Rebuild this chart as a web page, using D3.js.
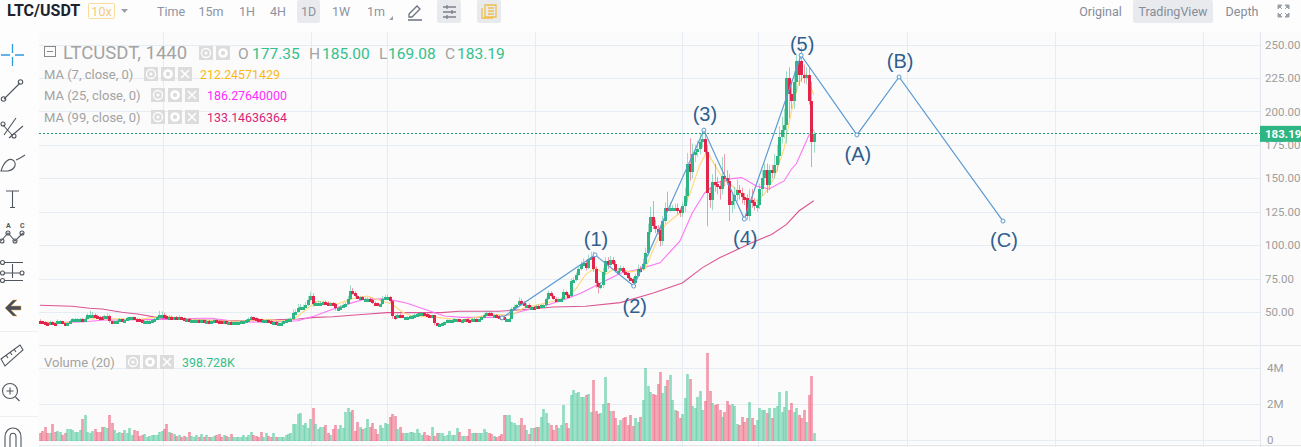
<!DOCTYPE html>
<html>
<head>
<meta charset="utf-8">
<title>LTC/USDT</title>
<script src="https://cdn.jsdelivr.net/npm/d3@7/dist/d3.min.js"></script>
<style>
html,body{margin:0;padding:0;background:#fff;overflow:hidden}
svg{display:block;font-family:Roboto,"Noto Sans",sans-serif}
</style>
</head>
<body>
<svg id="chart" width="1301" height="447"></svg>
<script>
// Daily closes, one per session
const firstOpen = 43.5;
const closes = [
43,42.5,42,41.5,42.5,41.5,41,43,43,41.5,
41,41.5,43,44.5,45,45,45,44.5,45,47.5,
48,48,47,46.5,46,45.5,47,47,43,42.5,
43,43.5,44.5,44,44,45.5,46,46,45,44.5,
44,43.5,43.5,43.5,43.5,44,44.5,46,48,48,
47,46,46.5,46,46,45.5,46,45.5,45,45,
43.5,44,44,44,43.5,44,43.5,43.5,43,43,
44,43.5,43,42.5,43,42.5,42.5,42,42.5,42.5,
42.5,43,43,44,45,46,45.5,45,44.5,44,
44,44,43.5,42.5,42.5,42,42,42,43,44,
44.5,45,49,50,53,54,54,55.5,59,62,
56,56.5,57,57,57.5,57,56.5,56.5,56,53,
53,54,55.5,56,60,66,64,62,61,61,
60,60,60,59,57,56.5,56,56,60,61,
61,58,47,46,48,47.5,46,46,46.5,47,
47,48,48.5,49,49,48.5,48,47.5,47.5,41.5,
41,41,41.5,42.5,44,44,44,44.5,44.5,44,
44,44.5,44,43.5,44.5,45,44.5,44.5,46,48,
49.5,49,47.5,47.5,47,46.5,46,45,45,45,
52,54,55,58,57,55.5,55.5,54,54,53,
54.5,54,55,55,60,64,62,60,59,59.5,
60,65,63,62,73,74,78,82,86,87,
83,90,91,82,72,69,70,80,88,85,
89,86,80.5,81,83,80,79,75.5,75,72,
77,82.5,82,86,94,110,121,114,112,111,
103,118,128,127,128,128,128,126,124,129,
137,161,155,168,170,172,177,179,170,139,
134,147,146,144,142,152,150,148,130,133,
137.6,141,139,136,135,122,134,132,129,130,
142,150,156,145,156,154,160,167,181,186,
190,225,213,208,222,238,227,227,226,227,
208,177.35,183.19];

// Sessions that gapped away from the previous close: [session, open]
const gappedOpens = [[307, 238]];

// Wick length above the candle body
const wickUp = [
1,.5,.5,.5,1,.5,.5,1.5,1,.5,
.5,1,1,1,.5,.5,.5,.5,1,1.5,
3,2,1,1,.5,1,1,2,1,.5,
.5,.5,1,.5,.5,1,.5,.5,.5,.5,
.5,.5,.5,.5,.5,.5,1,1,3,2.5,
1.5,1,1,1,.5,1,1.5,.5,.5,.5,
.5,.5,.5,.5,.5,.5,.5,.5,.5,.5,
1,.5,.5,.5,.5,.5,.5,.5,.5,.5,
.5,.5,.5,1,1,1,.5,.5,.5,.5,
.5,.5,.5,.5,.5,.5,.5,.5,1,1,
1,1,3,2,3,2,1.5,2,3,3,
2,1.5,1.5,1,1,1,1,.5,1,1,
1,1,1,1.5,2,4,2,1.5,1,1,
1,1,1,1,1,1,.5,.5,2,2,
2,1,1,1,1,1,.5,.5,.5,.5,
1,1,1,1,.5,.5,.5,.5,.5,.5,
.5,.5,.5,.5,.5,.5,.5,1,.5,.5,
.5,.5,.5,.5,1,1,.5,.5,1,1,
1.5,1,1,1,1,.5,.5,.5,.5,.5,
1.5,1.5,1,3,2,1,1,1,1,.5,
1,1,1,1,1,2,1.5,1,1,1,
1,2,1,1,2,2,1.5,1.5,2,3,
2,3,4,4,2,1,2,3,3,3,
3,2,2,2,2,1,1,1,1,1,
1.5,3,2,4,4,6,8,12,5,3,
3,4,4,12,4,2,3,3,2,3,
6,8,19,8,5,6,6,7,4,5,
4,6,14,5,4,14,16,6,5,6,
6,8,4,4,3,3,8,8,3,4,
4,6,5,5,4,4,8,8,8,10,
12,5,8,10,8,4,5,10,8,6,
6,14,1.81];

// Wick length below the candle body
const wickDown = [
.5,.5,.5,.5,.5,1,1.5,.5,.5,.5,
1,.5,.5,.5,.5,.5,.5,.5,.5,.5,
.5,.5,.5,.5,.5,.5,.5,.5,1,1,
.5,.5,.5,.5,.5,.5,.5,.5,.5,.5,
.5,.5,.5,.5,.5,.5,.5,.5,.5,.5,
.5,.5,.5,.5,.5,.5,.5,.5,.5,1,
1,.5,.5,.5,.5,.5,.5,.5,.5,.5,
.5,.5,.5,1,.5,.5,.5,.5,.5,.5,
.5,.5,.5,.5,.5,.5,.5,.5,.5,.5,
.5,.5,.5,.5,.5,.5,.5,.5,.5,.5,
.5,.5,.5,.5,.5,1,1,1,1,1,
2,1,1,1,1,1,1,1,1,2,
2,1,.5,.5,.5,1,1,1,1,1,
1,1,1,1,1,1,1,1,.5,.5,
.5,1,2,2,1,1,.5,1,.5,.5,
.5,.5,.5,.5,.5,.5,.5,.5,.5,1.5,
1,1,.5,.5,.5,.5,.5,1,.5,.5,
.5,1,.5,1,.5,.5,1,.5,.5,.5,
.5,.5,.5,.5,.5,.5,1,.5,.5,.5,
.5,.5,.5,.5,1,.5,.5,.5,.5,.5,
.5,1,.5,.5,1,1,1,1,.5,.5,
.5,1,1,1,1,1,1,1,1,1,
2,1,1,2,4,5,2,2,2,3,
1,1,1,1,1,1,1,1,1,2,
1,1,1,1,2,2,2,2,3,3,
4,3,2,2,2,2,2,3,3,3,
4,5,7,5,6,4,4,4,2,25,
6,8,6,6,8,4,6,3,12,6,
6,5,5,5,5,3,4,4,3,4,
3,5,5,6,4,4,4,5,6,5,
6,14,18,6,6,8,8,5,5,6,
3,19,8.27];

// Traded volume per session, in millions
const volumes = [
.37,.52,.7,.37,.41,.89,.46,.48,.46,.28,
.37,.59,.59,.56,.46,.46,.56,1.15,1.39,.46,
.41,.52,.63,.46,.44,.74,.74,.65,1.39,.93,
.56,.41,.46,.41,.56,.41,.65,.28,.56,.52,
.22,.26,.33,.19,.22,.26,.26,.28,.46,.52,
.59,.89,.44,.41,.33,.22,.26,.19,.22,.19,
.46,.22,.15,.3,.15,.33,.15,.26,.19,.15,
.22,.28,.33,.19,.3,.22,.15,.33,.15,.15,
.19,.19,.26,.19,.28,.46,.3,.22,.19,.44,
.19,.41,.22,.15,.37,.19,.15,.15,.15,.28,
.33,.41,.89,.89,1.44,
1.48,.83,.96,.65,1.15,1.76,.89,.59,.7,.74,
.85,.41,.28,.59,.85,.59,.83,.69,1.54,1.76,
1.56,1.67,.52,1.02,.74,.59,.65,1.15,.7,.93,
.59,.33,.83,.65,.93,.89,1.26,1.44,1.33,.59,
.7,.41,.41,.37,.44,.44,.41,.59,.37,.3,
.44,.26,.22,.7,.22,.37,.37,.37,.22,.26,
.48,.3,.26,.65,.44,.22,.22,.22,.59,.37,
.37,.37,.37,.37,.59,.44,.37,.33,.22,.19,
.22,.33,1.39,1.39,1.39,1.02,.93,.83,.83,1.2,
.83,.56,.33,.65,.65,.74,.74,1.3,1.7,1.52,
.96,.83,.56,.83,.65,
.81,1.94,.96,.65,2.5,2.78,2.59,2.69,2.37,2.41,
2.5,2.54,1.57,3.33,1.63,1.44,1.48,2,3.52,2.07,
1.63,1.63,1.2,.83,1.11,1.2,1.3,.83,1.39,.78,
1.2,1.02,1.3,2.22,3.98,3,2.69,2.56,2.5,3.11,
3.8,2.63,3,3.33,3.61,2.22,1.67,1.63,1.2,1.44,
2.35,3.67,3.39,1.89,1.76,2.41,2.7,1.67,2.19,4.85,
2.72,2.07,1.96,2,1.67,1.3,1.57,2.19,1.94,2,
1.89,.89,.83,1.3,1.02,1.2,2.13,1.2,.83,1.11,
1.8,1.67,1.67,1.52,1.8,1.2,1.8,1.91,2.69,1.57,
1.85,2.74,1.67,2.07,1.57,1.76,1.39,1.2,1.67,1.02,
2.5,3.56,.399];

// Moving averages as [session, value]
const ma7 = [[0,42.5],[10,42],[20,45],[30,45],[40,44.5],[50,47],[60,44.5],[70,43.5],[80,43],[90,44.5],[100,43],[104,47],[108,53],[112,58],[120,56],[126,60],[132,62],[138,58],[142,56],[146,50],[150,47],[160,46],[170,44],[180,47.5],[185,48],[190,47.5],[195,53],[200,55],[207,58],[212,61],[216,67],[220,78],[224,83],[228,78],[232,83],[238,80],[244,82],[248,100],[252,115],[258,124],[262,138],[266,160],[269,170],[272,160],[276,148],[280,143],[284,136],[288,132],[292,138],[296,150],[300,172],[303,200],[306,222],[309,228],[312,212.25]];
const ma25 = [[0,42],[17,42.5],[26,44],[33,44],[47,44.5],[53,44.5],[65,45.3],[69,45.3],[80,42.7],[91,42.3],[104,43.5],[111,47.2],[118,52],[126,57],[131,59.5],[140,59.8],[148,56.5],[156,51.5],[163,47],[170,46],[183,46],[189,47.7],[195,51],[202,53.75],[211,59],[218,64],[225,70.5],[234,79],[241,81.75],[250,86.75],[258,103],[263,124],[268,139],[273,146.75],[279,149.75],[283,150.5],[289,144],[294,142],[300,148],[303,156.75],[305,161],[308,173.6],[310,182],[312,186.28]];
const ma99 = [[0,55],[13,54.3],[20,52.8],[25,52.2],[33,49.8],[40,48.3],[47,46],[51,44.8],[65,44],[81,43.5],[91,44],[104,44.8],[111,46],[118,46.4],[131,48.3],[140,49.5],[148,49.5],[162,49.5],[169,50.6],[185,50.6],[194,51.7],[207,53.75],[220,54.25],[234,57],[247,64],[259,71.75],[267,83],[274,90.5],[287,101.75],[295,108],[301,115.5],[306,125.5],[312,133.15]];

// Elliott wave count drawn over the candles: [session, price]
const wavePoints = [[186.3,45.6],[223.8,92.7],[239.4,69.4],[267.7,186],[284,119.5],[306.9,242],[329.4,182.4],[346.4,225.7],[388.3,118]];
const waveLabels = ["", "(1)", "(2)", "(3)", "(4)", "(5)", "(A)", "(B)", "(C)"];
const waveLabelGap = [0,-9,27,-9,26,-4,26,-9,26];

// Scale marks
const priceTicks = [50,75,100,125,150,175,200,225,250];
const volumeTicks = [0,2,4];
const monthStarts = [49.6,109.3,140,199.6,259,289.5,349.6,409.3,469];
const lastPrice = 183.19;

const intervals = [["Time",171],["15m",211],["1H",247],["4H",278],["1D",308.5],["1W",341],["1m",376]];
const views = [["Original",1100.5],["TradingView",1173],["Depth",1242]];
const ohlc = [["O","177.35",238,252],["H","185.00",309,322],["L","169.08",379,388],["C","183.19",445,457]];
const maLegend = [
  ["MA (7, close, 0)","212.24571429","#fbb90f",74,144,200],
  ["MA (25, close, 0)","186.27640000","#ff2cff",95,151,207],
  ["MA (99, close, 0)","133.14636364","#d91e78",117,151,207]
];

const GREEN = "#2db683", RED = "#e2254b", GRID = "#e5ecf3", TEXT = "#a3a3a3";
const svg = d3.select("#chart");

const x = d3.scaleLinear().domain([0,100]).range([40,288]);
const y = d3.scaleLinear().domain([50,250]).range([312,44.5]);
const yVol = d3.scaleLinear().domain([0,4]).range([440,368]);

// Open, high and low for each session
const opens = closes.map((c,i) => i ? closes[i-1] : firstOpen);
gappedOpens.forEach(([i,o]) => { opens[i] = o; });
const candles = closes.map((c,i) => ({
  i, open: opens[i], close: c,
  high: Math.max(opens[i],c) + wickUp[i],
  low: Math.min(opens[i],c) - wickDown[i],
  vol: volumes[i],
  up: c >= opens[i]
}));

// Chart panes
svg.append("rect").attr("width",1301).attr("height",447).attr("fill","#fdfdfd");
svg.append("rect").attr("x",39).attr("y",32).attr("width",1262).attr("height",415).attr("fill","#fbfbfb");

const gridG = svg.append("g").attr("stroke",GRID).attr("stroke-width",1);
gridG.selectAll("line.v").data(monthStarts).join("line").attr("class","v")
  .attr("x1",d=>Math.round(x(d))+.5).attr("x2",d=>Math.round(x(d))+.5).attr("y1",32).attr("y2",447);
gridG.selectAll("line.p").data(priceTicks).join("line").attr("class","p")
  .attr("x1",39).attr("x2",1260).attr("y1",d=>Math.round(y(d))+.5).attr("y2",d=>Math.round(y(d))+.5);
gridG.selectAll("line.m").data(volumeTicks).join("line").attr("class","m")
  .attr("x1",39).attr("x2",1260).attr("y1",d=>Math.round(yVol(d))+.5).attr("y2",d=>Math.round(yVol(d))+.5);
[345.5,445.5].forEach(p => svg.append("line").attr("x1",39).attr("x2",1301).attr("y1",p).attr("y2",p).attr("stroke","#e4e8ec"));
svg.append("line").attr("x1",1260.5).attr("x2",1260.5).attr("y1",32).attr("y2",447).attr("stroke","#e1e6ec");

// Price and volume axes
function styleAxis(g){
  g.select(".domain").remove();
  g.selectAll(".tick line").remove();
  g.selectAll("text").attr("fill","#9d9d9d").attr("font-size",11.5).attr("font-family","Roboto,sans-serif");
}
svg.append("g").attr("transform","translate(1260,0)")
  .call(d3.axisRight(y).tickValues(priceTicks).tickFormat(d3.format(".2f")).tickSize(0).tickPadding(5)).call(styleAxis);
svg.append("g").attr("transform","translate(1260,0)")
  .call(d3.axisRight(yVol).tickValues(volumeTicks).tickFormat(d=>d?d+"M":"0").tickSize(0).tickPadding(7)).call(styleAxis);

// Volume bars
svg.append("g").selectAll("rect").data(candles).join("rect")
  .attr("x",d=>Math.round(x(d.i))-.75+.5)
  .attr("width",1.5)
  .attr("y",d=>Math.round(yVol(d.vol))+.5)
  .attr("height",d=>Math.max(0,440-Math.round(yVol(d.vol))))
  .attr("fill",d=>d.up?"#5fcda4":"#f0738c").attr("fill-opacity",.5)
  .attr("stroke",d=>d.up?"#63cfa8":"#ee6f89").attr("stroke-opacity",.72);

// Moving averages
const line = d3.line().x(d=>x(d[0])).y(d=>y(d[1]));
[[ma99,"#dc5593"],[ma25,"#ff74f4"],[ma7,"#ffd778"]].forEach(([s,c]) =>
  svg.append("path").attr("d",line(s)).attr("fill","none").attr("stroke",c).attr("stroke-width",1.1));

// Candles
const candleG = svg.append("g");
candleG.selectAll("line").data(candles).join("line")
  .attr("x1",d=>Math.round(x(d.i))+.5).attr("x2",d=>Math.round(x(d.i))+.5)
  .attr("y1",d=>y(d.high)).attr("y2",d=>y(d.low))
  .attr("stroke",d=>d.up?GREEN:RED).attr("stroke-opacity",.45);
candleG.selectAll("rect").data(candles).join("rect")
  .attr("x",d=>Math.round(x(d.i))-1).attr("width",3)
  .attr("y",d=>Math.round(y(Math.max(d.open,d.close))))
  .attr("height",d=>Math.max(3,Math.round(y(Math.min(d.open,d.close)))-Math.round(y(Math.max(d.open,d.close)))))
  .attr("fill",d=>d.up?GREEN:RED);

// Last price marker
svg.append("line").attr("x1",39).attr("x2",1260).attr("y1",Math.round(y(lastPrice))-.5).attr("y2",Math.round(y(lastPrice))-.5)
  .attr("stroke","#1f9d6f").attr("stroke-dasharray","2 2");
svg.append("rect").attr("x",1260).attr("y",y(lastPrice)-8).attr("width",41).attr("height",16).attr("fill",GREEN);
svg.append("text").attr("x",1265).attr("y",y(lastPrice)+4.5).attr("fill","#fff").attr("font-size",11.5).attr("font-weight",700).text(lastPrice.toFixed(2));

// Wave path, vertices and labels
svg.append("path").attr("d",line(wavePoints)).attr("fill","none").attr("stroke","#5b9ad2").attr("stroke-width",1.2);
svg.append("g").selectAll("circle").data(wavePoints).join("circle")
  .attr("cx",d=>x(d[0])).attr("cy",d=>y(d[1])).attr("r",2).attr("fill","#fbfbfb").attr("stroke","#5b9ad2");
svg.append("g").selectAll("text").data(wavePoints).join("text")
  .attr("x",d=>x(d[0])+1).attr("y",(d,i)=>y(d[1])+waveLabelGap[i])
  .attr("text-anchor","middle").attr("font-family","'Liberation Sans',Arial,sans-serif").attr("font-size",20).attr("fill","#2f5f8f")
  .text((d,i)=>waveLabels[i]);

// Legend control squares: eye, gear, close
function legendBoxes(px,py,n){
  for(let k=0;k<n;k++){
    const bx=px+k*17;
    svg.append("rect").attr("x",bx).attr("y",py).attr("width",14).attr("height",14).attr("fill","#dcdcdc");
    if(k==0){
      svg.append("circle").attr("cx",bx+7).attr("cy",py+7).attr("r",4.5).attr("fill","none").attr("stroke","#fff").attr("stroke-width",1.3);
      svg.append("circle").attr("cx",bx+7).attr("cy",py+7).attr("r",1.6).attr("fill","#fff");
    } else if(k==1){
      svg.append("circle").attr("cx",bx+7).attr("cy",py+7).attr("r",3.5).attr("fill","none").attr("stroke","#fff").attr("stroke-width",2.6);
    } else {
      svg.append("path").attr("d",`M${bx+3} ${py+3}L${bx+11} ${py+11}M${bx+11} ${py+3}L${bx+3} ${py+11}`).attr("stroke","#fff").attr("stroke-width",1.6);
    }
  }
}
svg.append("rect").attr("x",44.5).attr("y",46.5).attr("width",11).attr("height",10).attr("fill","none").attr("stroke","#888");
svg.append("line").attr("x1",47).attr("x2",53).attr("y1",51.5).attr("y2",51.5).attr("stroke","#888");
svg.append("text").attr("x",63).attr("y",59).attr("font-size",18.5).attr("fill",TEXT).text("LTCUSDT, 1440");
legendBoxes(199,46,2);
ohlc.forEach(([k,v,kx,vx]) => {
  svg.append("text").attr("x",kx).attr("y",59).attr("font-size",15.5).attr("fill",TEXT).text(k);
  svg.append("text").attr("x",vx).attr("y",59).attr("font-size",15.5).attr("fill","#34c08b").text(v);
});
maLegend.forEach(([t,v,c,ty,bx,vx]) => {
  svg.append("text").attr("x",44).attr("y",ty+5).attr("font-size",13).attr("fill",TEXT).text(t);
  legendBoxes(bx,ty-7,3);
  svg.append("text").attr("x",vx).attr("y",ty+5).attr("font-size",12.4).attr("fill",c).text(v);
});
svg.append("text").attr("x",44).attr("y",367).attr("font-size",13).attr("fill",TEXT).text("Volume (20)");
legendBoxes(126,355,3);
svg.append("text").attr("x",182).attr("y",367).attr("font-size",12.4).attr("fill","#34c08b").text("398.728K");

// Top toolbar
svg.append("text").attr("x",7).attr("y",16).attr("font-size",16).attr("font-weight",700).attr("fill","#1c2230").text("LTC/USDT");
svg.append("rect").attr("x",88.5).attr("y",3.5).attr("width",26).attr("height",15).attr("rx",1).attr("fill","none").attr("stroke","#f8dc9c");
svg.append("text").attr("x",101.5).attr("y",15.5).attr("text-anchor","middle").attr("font-size",12.5).attr("fill","#f2cb7b").text("10x");
svg.append("path").attr("d","M121 9h7l-3.5 4z").attr("fill","#9aa0aa");
svg.append("rect").attr("x",297).attr("y",0).attr("width",23).attr("height",23).attr("rx",2).attr("fill","#e8eaed");
svg.append("rect").attr("x",437).attr("y",0).attr("width",24).attr("height",23).attr("rx",2).attr("fill","#e8eaed");
svg.append("rect").attr("x",477).attr("y",0).attr("width",24).attr("height",23).attr("rx",2).attr("fill","#e8eaed");
intervals.forEach(([t,cx]) => svg.append("text").attr("x",cx).attr("y",16).attr("text-anchor","middle").attr("font-size",12.5).attr("fill","#8d93a0").text(t));
svg.append("path").attr("d","M393 16v4h-4z").attr("fill","#9aa0aa");
svg.append("path").attr("d","M409 14l8-8 3 3-8 8h-3zM408 20h14").attr("fill","none").attr("stroke","#6b7280").attr("stroke-width",1.3);
svg.append("path").attr("d","M443 7h13M443 12h13M443 17h13M447 5v4M452 10v4M447 15v4").attr("fill","none").attr("stroke","#7b818c").attr("stroke-width",1.3);
svg.append("path").attr("d","M485 5h11v12h-11zM482 8v10h11M488 8h6M488 11h6M488 14h6").attr("fill","none").attr("stroke","#f0bf4c").attr("stroke-width",1.3);
svg.append("rect").attr("x",1133).attr("y",0).attr("width",80).attr("height",23).attr("rx",2).attr("fill","#e8eaed");
views.forEach(([t,cx]) => svg.append("text").attr("x",cx).attr("y",15.5).attr("text-anchor","middle").attr("font-size",12.5).attr("fill","#858c9a").text(t));
svg.append("path").attr("d","M1278 5h4l-4 4zM1289 5h-4l4 4zM1278 17h4l-4-4zM1289 17h-4l4-4zM1280 7l2 2M1287 7l-2 2M1280 15l2-2M1287 15l-2-2").attr("fill","#9aa0aa").attr("stroke","#9aa0aa");

// Drawing tools on the left edge
const tool = svg.append("g").attr("fill","none").attr("stroke","#50565f").attr("stroke-width",1.1);
tool.append("path").attr("d","M1 55h9M15 55h9M12.5 44v9M12.5 57v9").attr("stroke","#2e9be0").attr("stroke-width",1.3);
tool.append("path").attr("d","M4 99L20 83");
tool.append("circle").attr("cx",3.5).attr("cy",99).attr("r",2.2);
tool.append("circle").attr("cx",20.5).attr("cy",82).attr("r",2.2);
tool.append("path").attr("d","M4 135L16 118M9 138L23 126M3 125L12 135");
tool.append("circle").attr("cx",3).attr("cy",124).attr("r",2);
tool.append("circle").attr("cx",14).attr("cy",136).attr("r",2);
tool.append("path").attr("d","M1 171C4 161 10 157 14 161C17 165 14 170 8 171ZM16 160C19 159 22 157 25 155");
tool.append("path").attr("d","M6 191h13M12.5 191v16M10 207.5h5");
tool.append("path").attr("d","M1 241L8 233L15 241L23 233");
[[2,241],[8,233],[15,241],[22,233]].forEach(p => tool.append("circle").attr("cx",p[0]).attr("cy",p[1]).attr("r",2));
svg.append("text").attr("x",6).attr("y",228).attr("font-size",7).attr("font-weight",700).attr("fill","#50565f").text("A");
svg.append("text").attr("x",20).attr("y",228).attr("font-size",7).attr("font-weight",700).attr("fill","#50565f").text("C");
tool.append("path").attr("d","M4 262.5h19M4 273h16M4 280.5h19M12.5 264v14");
[[2.5,262.5],[2.5,273],[22,273],[2.5,280.5]].forEach(p => tool.append("circle").attr("cx",p[0]).attr("cy",p[1]).attr("r",2));
svg.append("path").attr("d","M5 308L13 300h4l-6 6h10v4h-10l6 6h-4Z").attr("fill","#4a505a").attr("stroke","#e8a24c").attr("stroke-width",.5);
svg.append("line").attr("x1",0).attr("x2",38).attr("y1",331.5).attr("y2",331.5).attr("stroke","#eceef0");
tool.append("path").attr("d","M1 359L20 345L23 350L5 366ZM6 355l2 3M10 352l2 3M14 349l2 3");
tool.append("circle").attr("cx",10).attr("cy",391).attr("r",7.5);
tool.append("path").attr("d","M6.5 391h7M10 387.5v7M15.5 397l4 4");
svg.append("line").attr("x1",0).attr("x2",38).attr("y1",416.5).attr("y2",416.5).attr("stroke","#eceef0");
tool.append("path").attr("d","M5 447V437C5 425 21 425 21 437V447M10 447V437C10 432 16 432 16 437V447");
</script>
</body>
</html>
